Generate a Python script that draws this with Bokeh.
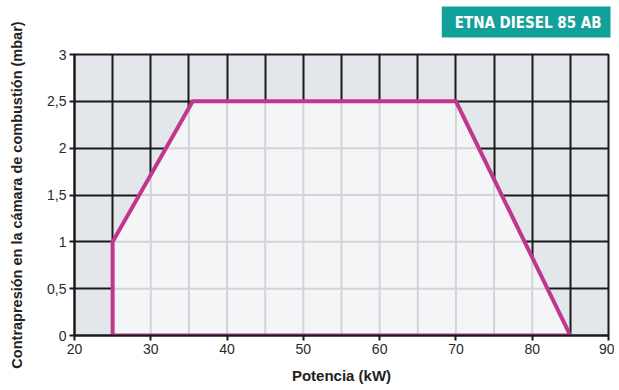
import numpy as np
from bokeh.plotting import figure
from bokeh.models import Title, FixedTicker, CustomJSTickFormatter, Range1d
from bokeh.embed import file_html
from bokeh.resources import INLINE

# ---- data ----
power_kw = [25, 25, 35.5, 70, 85]          # working field outline (x)
backpressure_mbar = [0, 1, 2.5, 2.5, 0]    # working field outline (y)
x_ticks = [20, 30, 40, 50, 60, 70, 80, 90]
x_grid = [20, 25, 30, 35, 40, 45, 50, 55, 60, 65, 70, 75, 80, 85, 90]
y_ticks = [0, 0.5, 1, 1.5, 2, 2.5, 3]
title_text = "ETNA DIESEL 85 AB"
x_label = "Potencia (kW)"
y_label = "Contrapresión en la cámara de combustión (mbar)"

DARK_BG = "#e3e6ea"
LIGHT_BG = "#f4f5f7"
MAGENTA = "#c1378d"
TEAL = "#14a09a"

p = figure(width=614, height=388, x_range=Range1d(20, 90), y_range=Range1d(0, 3),
           output_backend="svg", toolbar_location=None,
           min_border_left=74, min_border_right=6, min_border_top=54, min_border_bottom=53)
p.background_fill_color = DARK_BG
p.border_fill_color = "white"
p.outline_line_color = "#1a1a1a"
p.outline_line_width = 2

# black grid (visible outside the working field)
p.xgrid.ticker = FixedTicker(ticks=x_grid)
p.ygrid.ticker = FixedTicker(ticks=y_ticks)
for g in (p.xgrid, p.ygrid):
    g.grid_line_color = "#1a1a1a"
    g.grid_line_width = 2
    g.grid_line_alpha = 1

# working field fill
p.patch(power_kw, backpressure_mbar, fill_color=LIGHT_BG, line_color=None)

# light grid inside the working field (derived from the outline)
top_x = power_kw[1:]
top_y = backpressure_mbar[1:]
xs, ys = [], []
for gx in x_grid:
    if power_kw[0] < gx < power_kw[-1]:
        xs.append([gx, gx])
        ys.append([0, float(np.interp(gx, top_x, top_y))])
left_y = backpressure_mbar[:3]
left_x = power_kw[:3]
right_y = [backpressure_mbar[-1], backpressure_mbar[-2]]
right_x = [power_kw[-1], power_kw[-2]]
for gy in y_ticks:
    if 0 < gy < max(backpressure_mbar):
        xl = float(np.interp(gy, left_y, left_x))
        xr = float(np.interp(gy, right_y, right_x))
        xs.append([xl, xr])
        ys.append([gy, gy])
p.multi_line(xs, ys, line_color="#d3d4d7", line_width=2)

# outline
p.patch(power_kw, backpressure_mbar, fill_color=None, line_color=MAGENTA, line_width=4,
        line_join="miter")

# axes
p.xaxis.ticker = FixedTicker(ticks=x_ticks)
p.yaxis.ticker = FixedTicker(ticks=y_ticks)
p.yaxis.formatter = CustomJSTickFormatter(code="return tick.toString().replace('.', ',');")
for ax in (p.xaxis, p.yaxis):
    ax.axis_line_color = "#1a1a1a"
    ax.axis_line_width = 2
    ax.major_tick_line_color = "#1a1a1a"
    ax.major_tick_line_width = 2
    ax.major_tick_out = 5
    ax.major_tick_in = 0
    ax.minor_tick_line_color = None
    ax.major_label_text_font = "Liberation Sans"
    ax.major_label_text_font_size = "14px"
    ax.major_label_text_color = "#2a2a2a"
    ax.axis_label_text_font = "Liberation Sans"
    ax.axis_label_text_font_style = "bold"
    ax.axis_label_text_color = "#222222"
p.xaxis.axis_label_text_font_size = "15px"
p.yaxis.axis_label_text_font_size = "14.5px"
p.xaxis.major_label_standoff = 3
p.yaxis.major_label_standoff = 3
p.xaxis.axis_label = x_label
p.yaxis.axis_label = y_label
p.xaxis.axis_label_standoff = 10
p.yaxis.axis_label_standoff = 19

# spacer between frame and badge
p.add_layout(Title(text=" ", text_font_size="1px", standoff=12), "above")

# title badge
p.title = Title(text=title_text, align="right", vertical_align="top", offset=-2, standoff=0,
                text_font="DejaVu Sans Condensed", text_font_style="bold",
                text_font_size="15px", text_color="white",
                background_fill_color=TEAL,
                padding=dict(left=13, right=9, top=7, bottom=6))

open("out.html", "w").write(file_html(p, INLINE))
